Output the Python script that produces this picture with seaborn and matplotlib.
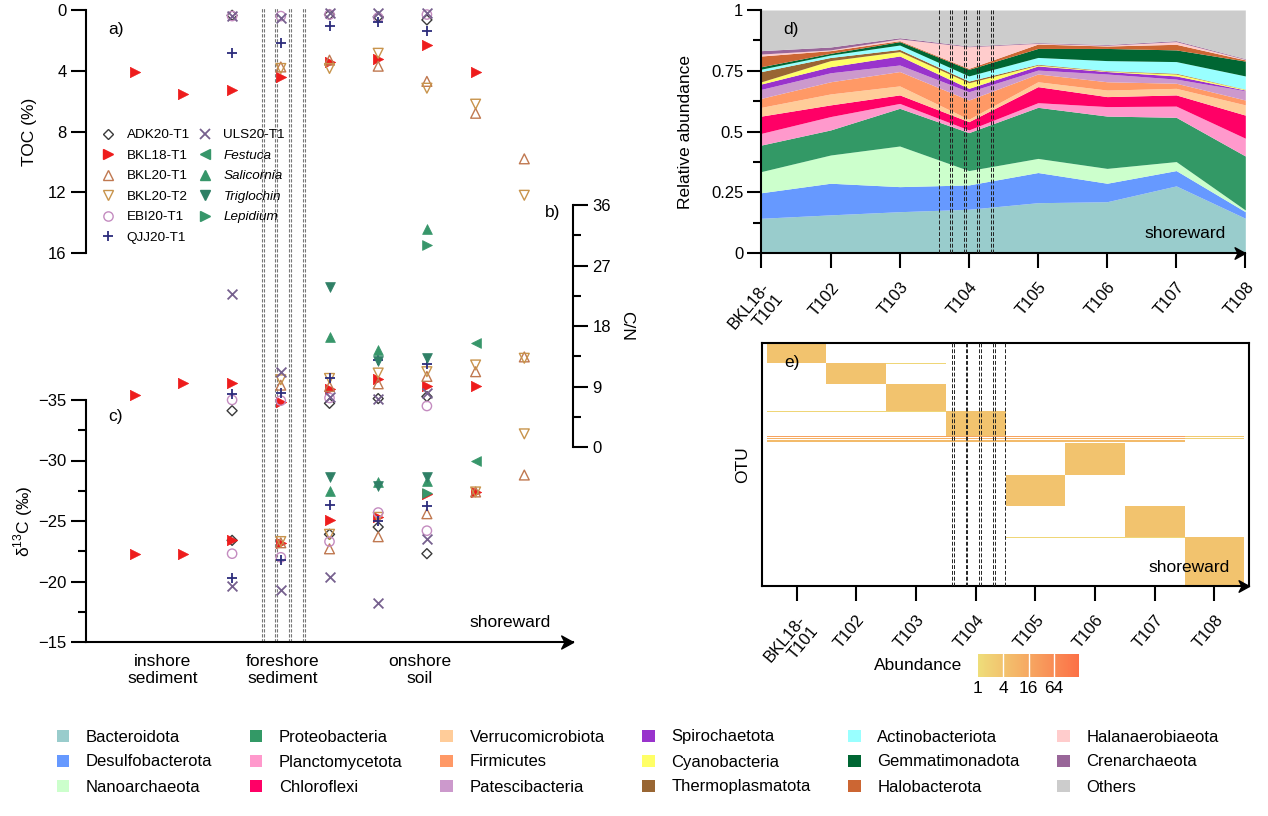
import numpy as np
import pandas as pd
import matplotlib
matplotlib.use('Agg')
import matplotlib.pyplot as plt
import seaborn as sns
from matplotlib.path import Path
from matplotlib.lines import Line2D
from matplotlib.patches import Patch
from matplotlib.colors import LinearSegmentedColormap, LogNorm
from matplotlib.ticker import MultipleLocator, FixedLocator, NullLocator

# ------------------------------------------------------------------ data
nan = np.nan
site_pos = [1, 2, 3, 4, 5, 6, 7, 8, 9]
zone_pos = [1.58, 4.04, 6.86]
zone_labels = ['inshore\nsediment', 'foreshore\nsediment', 'onshore\nsoil']

series_names = ['ADK20-T1', 'BKL18-T1', 'BKL20-T1', 'BKL20-T2', 'EBI20-T1',
                'QJJ20-T1', 'ULS20-T1', 'Festuca', 'Salicornia', 'Triglochin', 'Lepidium']
plant_names = ['Festuca', 'Salicornia', 'Triglochin', 'Lepidium']

toc_pct = {
    'ADK20-T1':  [nan, nan, 0.35, nan, 0.30, 0.45, 0.65, nan, nan],
    'BKL18-T1':  [4.05, 5.55, 5.25, 4.40, 3.40, 3.25, 2.30, 4.05, nan],
    'BKL20-T1':  [nan, nan, nan, 3.75, 3.30, 3.70, 4.70, 6.80, 9.80],
    'BKL20-T2':  [nan, nan, nan, 3.85, 3.85, 2.85, 5.15, 6.20, 12.2],
    'EBI20-T1':  [nan, nan, 0.40, 0.40, 0.30, 0.50, 0.30, nan, nan],
    'QJJ20-T1':  [nan, nan, 2.85, 2.15, 1.05, 0.80, 1.35, nan, nan],
    'ULS20-T1':  [nan, nan, 0.40, 0.50, 0.20, 0.20, 0.20, nan, nan],
    'Festuca':   [nan, nan, nan, nan, nan, nan, nan, nan, nan],
    'Salicornia': [nan, nan, nan, nan, nan, nan, 14.4, nan, nan],
    'Triglochin': [nan, nan, nan, nan, nan, nan, nan, nan, nan],
    'Lepidium':  [nan, nan, nan, nan, nan, nan, 15.45, nan, nan],
}
cn_ratio = {
    'ADK20-T1':  [nan, nan, 5.4, nan, 6.5, 7.2, 7.5, nan, nan],
    'BKL18-T1':  [7.7, 9.5, 9.5, 6.7, 8.6, 10.1, 9.1, 9.1, nan],
    'BKL20-T1':  [nan, nan, nan, 9.2, 9.0, 9.4, 10.5, 11.2, 13.4],
    'BKL20-T2':  [nan, nan, nan, 10.0, 10.2, 11.0, 11.2, 12.2, 13.2],
    'EBI20-T1':  [nan, nan, 7.0, 6.9, 7.3, nan, 6.1, nan, nan],
    'QJJ20-T1':  [nan, nan, 7.9, 8.0, 10.2, 12.9, 12.4, nan, nan],
    'ULS20-T1':  [nan, nan, 22.7, 11.2, 7.5, 7.2, 8.0, nan, nan],
    'Festuca':   [nan, nan, nan, nan, nan, nan, nan, 15.4, nan],
    'Salicornia': [nan, nan, nan, nan, 16.4, 14.4, nan, nan, nan],
    'Triglochin': [nan, nan, nan, nan, 23.8, 12.8, 13.2, nan, nan],
    'Lepidium':  [nan, nan, nan, nan, nan, nan, nan, nan, nan],
}
d13c_permil = {
    'ADK20-T1':  [nan, nan, -23.4, nan, -23.9, -24.5, -22.3, nan, nan],
    'BKL18-T1':  [-22.3, -22.3, -23.4, -23.2, -25.1, -25.3, -27.2, -27.4, nan],
    'BKL20-T1':  [nan, nan, nan, -23.2, -22.7, -23.7, -25.6, -27.4, -28.8],
    'BKL20-T2':  [nan, nan, nan, -23.3, -23.9, -25.3, nan, -27.4, -32.2],
    'EBI20-T1':  [nan, nan, -22.3, -22.0, -23.3, -25.7, -24.2, nan, nan],
    'QJJ20-T1':  [nan, nan, -20.3, -21.8, -26.3, -25.0, -26.2, nan, nan],
    'ULS20-T1':  [nan, nan, -19.6, -19.3, -20.4, -18.2, -23.5, nan, nan],
    'Festuca':   [nan, nan, nan, nan, nan, nan, nan, -30.0, nan],
    'Salicornia': [nan, nan, nan, nan, -27.5, -28.2, -28.3, nan, nan],
    'Triglochin': [nan, nan, nan, nan, -28.6, -27.9, -28.6, nan, nan],
    'Lepidium':  [nan, nan, nan, nan, nan, nan, -27.3, nan, nan],
}

samples = ['BKL18-\nT101', 'T102', 'T103', 'T104', 'T105', 'T106', 'T107', 'T108']
phyla = ['Bacteroidota', 'Desulfobacterota', 'Nanoarchaeota', 'Proteobacteria',
         'Planctomycetota', 'Chloroflexi', 'Verrucomicrobiota', 'Firmicutes',
         'Patescibacteria', 'Spirochaetota', 'Cyanobacteria', 'Thermoplasmatota',
         'Actinobacteriota', 'Gemmatimonadota', 'Halobacterota', 'Halanaerobiaeota',
         'Crenarchaeota', 'Others']
abund = {
    'Bacteroidota':      [0.144, 0.158, 0.171, 0.181, 0.208, 0.212, 0.277, 0.144],
    'Desulfobacterota':  [0.105, 0.130, 0.103, 0.100, 0.124, 0.076, 0.063, 0.027],
    'Nanoarchaeota':     [0.087, 0.116, 0.167, 0.059, 0.058, 0.061, 0.037, 0.007],
    'Proteobacteria':    [0.109, 0.103, 0.155, 0.156, 0.210, 0.215, 0.182, 0.222],
    'Planctomycetota':   [0.048, 0.055, 0.020, 0.011, 0.019, 0.039, 0.046, 0.073],
    'Chloroflexi':       [0.071, 0.048, 0.035, 0.034, 0.066, 0.041, 0.046, 0.095],
    'Verrucomicrobiota': [0.036, 0.045, 0.037, 0.010, 0.020, 0.027, 0.027, 0.042],
    'Firmicutes':        [0.037, 0.050, 0.059, 0.079, 0.032, 0.034, 0.021, 0.020],
    'Patescibacteria':   [0.037, 0.037, 0.027, 0.034, 0.016, 0.032, 0.017, 0.038],
    'Spirochaetota':     [0.022, 0.025, 0.037, 0.014, 0.017, 0.010, 0.013, 0.003],
    'Cyanobacteria':     [0.009, 0.025, 0.018, 0.023, 0.004, 0.002, 0.008, 0.003],
    'Thermoplasmatota':  [0.042, 0.013, 0.009, 0.007, 0.003, 0.002, 0.003, 0.001],
    'Actinobacteriota':  [0.010, 0.010, 0.018, 0.021, 0.028, 0.041, 0.048, 0.054],
    'Gemmatimonadota':   [0.010, 0.007, 0.014, 0.027, 0.037, 0.050, 0.048, 0.061],
    'Halobacterota':     [0.044, 0.011, 0.004, 0.004, 0.018, 0.010, 0.023, 0.005],
    'Halanaerobiaeota':  [0.008, 0.003, 0.007, 0.089, 0.003, 0.003, 0.011, 0.002],
    'Crenarchaeota':     [0.014, 0.012, 0.005, 0.003, 0.003, 0.003, 0.004, 0.003],
    'Others':            [0.167, 0.152, 0.114, 0.148, 0.134, 0.142, 0.126, 0.200],
}
phylum_colors = ['#99cccc', '#6699ff', '#ccffcc', '#339966', '#ff99cc', '#ff0066',
                 '#ffcc99', '#ff9966', '#cc99cc', '#9933cc', '#ffff66', '#996633',
                 '#99ffff', '#006633', '#cc6633', '#ffcccc', '#996699', '#cccccc']

# OTU groups of the heatmap (top to bottom): number of OTUs and abundance per sample
otu_group_sizes = [1, 17, 1, 18, 24, 1, 21, 1, 1, 1, 1, 1, 1, 29, 27, 28, 1, 42]
otu_group_abund = [
    [5, 0, 0, 0, 0, 0, 0, 0],
    [4, 0, 0, 0, 0, 0, 0, 0],
    [0, 4, 1.5, 0, 0, 0, 0, 0],
    [0, 4, 0, 0, 0, 0, 0, 0],
    [0, 0, 4, 0, 0, 0, 0, 0],
    [1.5, 1.5, 1.5, 4, 0, 0, 0, 0],
    [0, 0, 0, 4, 0, 0, 0, 0],
    [20, 20, 20, 20, 20, 20, 20, 3],
    [0, 0, 0, 0, 0, 0, 0, 0],
    [10, 10, 10, 10, 10, 10, 10, 2],
    [0, 0, 0, 0, 0, 0, 0, 0],
    [6, 6, 6, 6, 6, 6, 6, 0],
    [0, 0, 0, 0, 0, 0, 0, 0],
    [0, 0, 0, 0, 0, 4, 0, 0],
    [0, 0, 0, 0, 4, 0, 0, 0],
    [0, 0, 0, 0, 0, 0, 4, 0],
    [0, 0, 0, 0, 1.5, 1.5, 1.5, 4],
    [0, 0, 0, 0, 0, 0, 0, 4],
]
cbar_ticks = [1, 4, 16, 64]

left_break_lines = [3.62, 3.665, 3.88, 3.925, 4.17, 4.215, 4.45, 4.495]
d_break_lines = [2.573, 2.729, 2.757, 2.930, 2.957, 3.122, 3.151, 3.316, 3.345]
e_break_lines = [3.105, 3.134, 3.330, 3.360, 3.564, 3.593, 3.790, 3.820, 3.987]

# ------------------------------------------------------------------ style
sns.set_theme(style='ticks')
plt.rcParams['font.family'] = ['Liberation Sans', 'DejaVu Sans']
plt.rcParams['mathtext.fontset'] = 'custom'
plt.rcParams['mathtext.rm'] = 'Liberation Sans'
for k in ['axes.edgecolor', 'xtick.color', 'ytick.color', 'text.color', 'axes.labelcolor']:
    plt.rcParams[k] = 'black'
plt.rcParams['axes.linewidth'] = 1.5

W, H = 1268, 816
fig = plt.figure(figsize=(W / 100, H / 100), dpi=100)


def rect(x0, y0, x1, y1):
    return [x0 / W, 1 - y1 / H, (x1 - x0) / W, (y1 - y0) / H]


arrow_path = Path([(0, 0), (-1, 0.55), (-0.72, 0), (-1, -0.55), (0, 0)],
                  [Path.MOVETO, Path.LINETO, Path.LINETO, Path.LINETO, Path.CLOSEPOLY])


def add_arrow(ax, size=16):
    ax.plot([1.0], [0.0], transform=ax.transAxes, marker=arrow_path, markersize=size,
            color='black', clip_on=False, zorder=10)


TICK = 12
LAB = 12.5

# ------------------------------------------------------------------ left panel
ax_base = fig.add_axes(rect(86, 7, 573, 642))
ax_base.set_xlim(0, 10)
ax_base.set_ylim(0, 1)
ax_base.axis('off')
for xv in left_break_lines:
    ax_base.axvline(xv, color='#777777', lw=0.8, ls=(0, (3, 1.5)))

ax_a = fig.add_axes(rect(86, 10, 573, 253))
ax_b = fig.add_axes(rect(86, 205, 573, 447))
ax_c = fig.add_axes(rect(86, 400, 573, 642))
for ax in (ax_a, ax_b, ax_c):
    ax.set_facecolor('none')
    ax.set_xlim(0, 10)
    for s in ax.spines.values():
        s.set_visible(False)

green = '#37966a'
marker_styles = {
    'ADK20-T1': dict(marker='D', color='#3a3a3a', open=True, s=26, ms=5.2),
    'BKL18-T1': dict(marker='>', color='#ee1c1c', open=False, s=55, ms=7.3),
    'BKL20-T1': dict(marker='^', color='#c07850', open=True, s=50, ms=7),
    'BKL20-T2': dict(marker='v', color='#c8944c', open=True, s=50, ms=7),
    'EBI20-T1': dict(marker='o', color='#c48cc0', open=True, s=45, ms=6.7),
    'QJJ20-T1': dict(marker='+', color='#2c2c7c', open=False, s=60, ms=7.7),
    'ULS20-T1': dict(marker='x', color='#76608e', open=False, s=50, ms=7),
    'Festuca': dict(marker='<', color=green, open=False, s=50, ms=7),
    'Salicornia': dict(marker='^', color=green, open=False, s=50, ms=7),
    'Triglochin': dict(marker='v', color='#2f8066', open=False, s=50, ms=7),
    'Lepidium': dict(marker='>', color=green, open=False, s=50, ms=7),
}

for name in series_names:
    st = marker_styles[name]
    for ax, table in ((ax_a, toc_pct), (ax_b, cn_ratio), (ax_c, d13c_permil)):
        df = pd.DataFrame({'site': site_pos, 'value': table[name]}).dropna()
        if df.empty:
            continue
        kw = dict(marker=st['marker'], s=st['s'], zorder=3, legend=False, clip_on=False)
        if st['open']:
            kw.update(color=st['color'], facecolor='none', edgecolor=st['color'], linewidth=1.0)
        elif st['marker'] in ('+', 'x'):
            kw.update(color=st['color'], linewidth=1.3)
        else:
            kw.update(color=st['color'], edgecolor=st['color'], linewidth=0.5)
        sns.scatterplot(data=df, x='site', y='value', ax=ax, **kw)

# a) TOC
ax_a.set_ylim(16, 0)
ax_a.spines['left'].set_visible(True)
ax_a.set_yticks([0, 4, 8, 12, 16])
ax_a.tick_params(axis='y', length=11, width=1.5, labelsize=TICK, pad=3)
ax_a.tick_params(axis='x', bottom=False, labelbottom=False)
ax_a.set_xlabel('')
ax_a.set_ylabel('TOC (%)', fontsize=LAB)
ax_a.yaxis.label.set_va('center')
ax_a.yaxis.set_label_coords(-0.116, 0.5)
ax_a.text(0.045, 0.92, 'a)', transform=ax_a.transAxes, fontsize=LAB, va='center')

# b) C/N
ax_b.set_ylim(0, 36)
ax_b.spines['right'].set_visible(True)
ax_b.yaxis.tick_right()
ax_b.yaxis.set_major_locator(FixedLocator([0, 9, 18, 27, 36]))
ax_b.yaxis.set_minor_locator(MultipleLocator(4.5))
ax_b.tick_params(axis='y', which='major', length=11, width=1.5, labelsize=TICK, pad=3,
                 left=False, right=True, labelleft=False, labelright=True)
ax_b.tick_params(axis='y', which='minor', length=6, width=1.5, left=False, right=True)
ax_b.tick_params(axis='x', bottom=False, labelbottom=False)
ax_b.set_xlabel('')
ax_b.yaxis.set_label_position('right')
ax_b.set_ylabel('C/N', fontsize=LAB, rotation=270)
ax_b.yaxis.label.set_va('center')
ax_b.yaxis.set_label_coords(1.11, 0.5)
ax_b.text(0.942, 0.967, 'b)', transform=ax_b.transAxes, fontsize=LAB, va='center')

# c) d13C
ax_c.set_ylim(-15, -35)
ax_c.spines['left'].set_visible(True)
ax_c.spines['bottom'].set_visible(True)
ax_c.yaxis.set_major_locator(FixedLocator([-35, -30, -25, -20, -15]))
ax_c.yaxis.set_minor_locator(MultipleLocator(2.5))
ax_c.tick_params(axis='y', which='major', length=11, width=1.5, labelsize=TICK, pad=3)
ax_c.tick_params(axis='y', which='minor', length=6, width=1.5)
ax_c.set_xticks(zone_pos)
ax_c.set_xticklabels(zone_labels, fontsize=LAB, linespacing=1.1)
ax_c.tick_params(axis='x', length=0, pad=9)
ax_c.set_xlabel('')
ax_c.set_ylabel('δ$^{13}$C (‰)', fontsize=LAB)
ax_c.yaxis.label.set_va('center')
ax_c.yaxis.set_label_coords(-0.128, 0.5)
ax_c.text(0.045, 0.93, 'c)', transform=ax_c.transAxes, fontsize=LAB, va='center')
ax_c.text(9.55, -16.6, 'shoreward', fontsize=LAB, ha='right', va='center')
add_arrow(ax_c, 17)

handles = []
for name in series_names:
    st = marker_styles[name]
    if st['open']:
        h = Line2D([], [], ls='none', marker=st['marker'], markersize=st['ms'],
                   markerfacecolor='none', markeredgecolor=st['color'], markeredgewidth=1.0)
    elif st['marker'] in ('+', 'x'):
        h = Line2D([], [], ls='none', marker=st['marker'], markersize=st['ms'],
                   color=st['color'], markeredgewidth=1.3)
    else:
        h = Line2D([], [], ls='none', marker=st['marker'], markersize=st['ms'],
                   color=st['color'])
    handles.append(h)
leg = ax_a.legend(handles, series_names, ncol=2, loc='upper left',
                  bbox_to_anchor=(101 / W, 1 - 129 / H), bbox_transform=fig.transFigure,
                  frameon=False, fontsize=9.7, handlelength=1.0, handletextpad=0.9,
                  columnspacing=0.6, labelspacing=0.6, borderpad=0, borderaxespad=0)
for t in leg.get_texts():
    if t.get_text() in plant_names:
        t.set_style('italic')

# ------------------------------------------------------------------ d) stacked area
ax_d = fig.add_axes(rect(761.4, 10, 1245.3, 253.3))
xs = np.arange(len(samples))
ax_d.stackplot(xs, *[abund[p] for p in phyla], colors=phylum_colors, linewidth=0)
ax_d.set_xlim(0, 7)
ax_d.set_ylim(0, 1)
sns.despine(ax=ax_d)
ax_d.yaxis.set_major_locator(FixedLocator([0, 0.25, 0.5, 0.75, 1]))
ax_d.set_yticklabels(['0', '0.25', '0.5', '0.75', '1'])
ax_d.yaxis.set_minor_locator(MultipleLocator(0.125))
ax_d.tick_params(axis='y', which='major', length=10, width=1.5, labelsize=TICK, pad=3)
ax_d.tick_params(axis='y', which='minor', length=6, width=1.5)
ax_d.set_xticks(xs)
ax_d.set_xticklabels(samples, rotation=50, ha='right', va='top', rotation_mode='anchor',
                     fontsize=TICK)
ax_d.tick_params(axis='x', length=11, width=1.5, pad=8)
ax_d.set_ylabel('Relative abundance', fontsize=LAB)
ax_d.yaxis.label.set_va('center')
ax_d.yaxis.set_label_coords(-0.157, 0.5)
for xv in d_break_lines:
    ax_d.axvline(xv, color='#222222', lw=0.7, ls=(0, (4, 2)), zorder=5)
ax_d.text(0.045, 0.92, 'd)', transform=ax_d.transAxes, fontsize=LAB, va='center')
ax_d.text(0.96, 0.083, 'shoreward', transform=ax_d.transAxes, fontsize=LAB,
          ha='right', va='center')
add_arrow(ax_d, 15)

# ------------------------------------------------------------------ e) heatmap
rows = []
for n, vals in zip(otu_group_sizes, otu_group_abund):
    rows += [vals] * n
otu = pd.DataFrame(np.array(rows, dtype=float), columns=samples)

ax_e = fig.add_axes(rect(762, 342.7, 1249, 586))
cax = fig.add_axes(rect(978, 654, 1079, 677))
cmap = LinearSegmentedColormap.from_list(
    'abund', ['#eedd7a', '#f2c36e', '#f6a862', '#f98c55', '#fc7046'])
sns.heatmap(otu, ax=ax_e, cmap=cmap, norm=LogNorm(1, 256), mask=(otu == 0),
            cbar_ax=cax, cbar_kws=dict(orientation='horizontal', ticks=cbar_ticks),
            xticklabels=samples, yticklabels=False)
ax_e.set_xlim(-0.08, 8.08)
ax_e.set_ylim(len(otu) + 0.6, 0)
for s in ax_e.spines.values():
    s.set_visible(True)
    s.set_linewidth(1.5)
ax_e.set_xticks(np.arange(8) + 0.5)
ax_e.set_xticklabels(samples, rotation=50, ha='right', va='top', rotation_mode='anchor',
                     fontsize=TICK)
ax_e.tick_params(axis='x', bottom=True, length=11, width=1.5, pad=8)
ax_e.tick_params(axis='y', left=False)
ax_e.set_xlabel('')
ax_e.set_ylabel('OTU', fontsize=LAB)
ax_e.yaxis.label.set_va('center')
ax_e.yaxis.set_label_coords(-0.04, 0.5)
for xv in e_break_lines:
    ax_e.axvline(xv, color='#222222', lw=0.7, ls=(0, (4, 2)), zorder=5)
ax_e.text(0.045, 0.92, 'e)', transform=ax_e.transAxes, fontsize=LAB, va='center')
ax_e.text(0.961, 0.078, 'shoreward', transform=ax_e.transAxes, fontsize=LAB,
          ha='right', va='center')
add_arrow(ax_e, 15)

cax.xaxis.set_minor_locator(NullLocator())
cax.set_xticks(cbar_ticks)
cax.set_xticklabels([str(t) for t in cbar_ticks])
cax.tick_params(axis='x', length=0, labelsize=12.5, pad=3)
for t in cbar_ticks[1:]:
    cax.axvline(t, color='white', lw=1.0)
cax.text(-0.16, 0.5, 'Abundance', transform=cax.transAxes, fontsize=LAB,
         ha='right', va='center')

# ------------------------------------------------------------------ bottom legend
phy_handles = [Patch(facecolor=c, edgecolor='none') for c in phylum_colors]
order = []
for col in range(6):
    for row in range(3):
        order.append(col * 3 + row)
fig.legend([phy_handles[i] for i in order], [phyla[i] for i in order], ncol=6,
           loc='center', bbox_to_anchor=(0.503, 1 - 762 / H), frameon=False,
           fontsize=12, handlelength=0.75, handleheight=0.75, handletextpad=1.0,
           columnspacing=2.25, labelspacing=0.6, borderpad=0, borderaxespad=0)

fig.savefig('out.png', dpi=100, facecolor='white')
